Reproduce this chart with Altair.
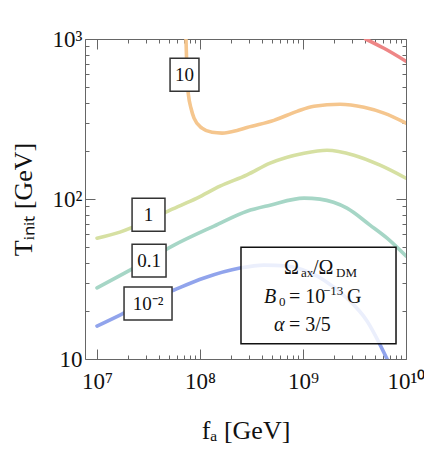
import math
import altair as alt
import pandas as pd

# ---------------- data ----------------
curve_names = ["100", "10", "1", "0.1", "10^-2"]
curve_colors = ["#ee8686", "#f5c68e", "#d6e0a2", "#a6d6c6", "#91a4ec"]

f_100 = [4.05e9, 6.11e9, 1e10]
T_100 = [1000, 875, 726]

f_10 = [7.31e7, 7.40e7, 7.48e7, 7.73e7, 8.18e7, 8.75e7, 1.045e8, 1.309e8, 1.637e8,
        2.286e8, 2.858e8, 5.22e8, 8.75e8, 1.279e9, 2.286e9, 3.91e9, 6.11e9, 1e10]
T_10 = [1000, 757, 569, 445, 369, 320, 277, 261, 258,
        268, 280, 310, 353, 380, 391, 374, 344, 298]

f_1 = [1e7, 1.671e7, 3.055e7, 5.12e7, 9.35e7, 1.563e8, 2.858e8, 4.79e8, 1.023e9,
       1.710e9, 3.126e9, 5.60e9, 1e10]
T_1 = [56.9, 62.1, 72.8, 85.2, 101.2, 120.2, 141.5, 167.5, 193.3,
       201.8, 187.8, 162.6, 134.8]

f_01 = [1e7, 2.089e7, 5.60e7, 1.368e8, 2.858e8, 4.79e8, 1.023e9, 1.462e9, 2.673e9,
        4.47e9, 6.55e9, 1e10]
T_01 = [27.8, 35.9, 51.5, 67.7, 83.9, 91.5, 101.2, 99.8, 87.6,
        68.7, 56.9, 44.0]

f_001 = [1e7, 1.671e7, 2.858e7, 5.60e7, 1.094e8, 2.443e8, 4.18e8, 7.00e8, 8.75e8,
         1.600e9, 2.673e9, 4.18e9, 6.55e9]
T_001 = [16.07, 18.83, 22.39, 26.98, 32.06, 37.0, 38.6, 38.1, 37.0,
         31.1, 24.0, 17.3, 10.0]

# contour labels (boxed)
lab_text = ["10", "1", "0.1", "10⁻²"]
lab_f = [7.07e7, 3.162e7, 3.198e7, 3.127e7]
lab_T = [597.7, 79.9, 41.2, 22.2]
lab_x1 = [5.12e7, 2.19e7, 2.19e7, 1.83e7]
lab_x2 = [9.77e7, 4.57e7, 4.68e7, 5.35e7]
lab_y1 = [471, 62.9, 32.5, 17.5]
lab_y2 = [757, 101.2, 52.2, 28.2]

# legend box
leg_x1 = [2.5e8]
leg_x2 = [8.0e9]
leg_y1 = [12.46]
leg_y2 = [50.0]
leg_text = ["Ω", "ax", "/Ω", "DM", "0", "= 10", "−13", "G", "= 3/5"]
leg_f = [6.54e8, 9.56e8, 1.251e9, 2.091e9, 5.85e8, 7.31e8, 1.563e9, 2.67e9, 7.31e8]
leg_T = [33.96, 32.5, 33.96, 32.5, 21.42, 22.37, 25.1, 22.37, 14.95]
leg_size = [20, 13, 20, 13, 13, 20, 13, 20, 20]
leg_it_text = ["B", "α"]
leg_it_f = [4.18e8, 5.23e8]
leg_it_T = [22.37, 14.95]
leg_it_size = [20, 20]

# axes
x_major = [1e7, 1e8, 1e9, 1e10]
x_major_labels = ["10⁷", "10⁸", "10⁹", "10¹⁰"]
x_minor = [m * 10 ** e for e in (7, 8, 9) for m in range(2, 10)]
y_major = [10, 100, 1000]
y_major_labels = ["10", "10²", "10³"]
y_minor = [m * 10 ** e for e in (1, 2) for m in range(2, 10)]

# ---------------- build tables ----------------
rows = []
for name, fs, Ts in zip(curve_names, [f_100, f_10, f_1, f_01, f_001],
                        [T_100, T_10, T_1, T_01, T_001]):
    for i, (f, T) in enumerate(zip(fs, Ts)):
        rows.append({"c": name, "f": f, "T": T, "i": i})
df_curves = pd.DataFrame(rows)
df_lab = pd.DataFrame({"t": lab_text, "f": lab_f, "T": lab_T,
                       "x1": lab_x1, "x2": lab_x2, "y1": lab_y1, "y2": lab_y2})
df_leg = pd.DataFrame({"x1": leg_x1, "x2": leg_x2, "y1": leg_y1, "y2": leg_y2})
df_legt = pd.DataFrame({"t": leg_text, "f": leg_f, "T": leg_T, "s": leg_size})
df_legit = pd.DataFrame({"t": leg_it_text, "f": leg_it_f, "T": leg_it_T, "s": leg_it_size})


def label_expr(vals, labs):
    e = ""
    for v, l in zip(vals, labs):
        e += f"abs(log(datum.value)/LN10 - {math.log10(v)}) < 0.01 ? '{l}' : "
    return e + "''"


FONT = "Liberation Serif"
common = dict(grid=False, domain=False, tickColor="#666", tickWidth=1,
              labelFont=FONT, labelFontSize=23, labelColor="#111",
              labelFlush=False, labelOverlap=False,
              titleFont=FONT, titleFontSize=26, titleColor="#111",
              titleFontWeight="normal")

xscale = alt.Scale(type="log", domain=[7.646e6, 1e10], nice=False)
yscale = alt.Scale(type="log", domain=[10, 1000], nice=False)

ax_x_bottom = alt.Axis(orient="bottom", values=x_major,
                       labelExpr=label_expr(x_major, x_major_labels),
                       tickSize={"expr": "-10"}, labelPadding=21,
                       title="fₐ [GeV]", titleY=79, titleBaseline="alphabetic", **common)
ax_y_left = alt.Axis(orient="left", values=y_major,
                     labelExpr=label_expr(y_major, y_major_labels),
                     tickSize={"expr": "-10"}, labelPadding=13,
                     title="Tᵢₙᵢₜ [GeV]", titleX=-62, titleBaseline="middle", **common)
ax_x_bottom_minor = alt.Axis(orient="bottom", values=x_minor, labels=False,
                             tickSize={"expr": "-4"}, title=None, **common)
ax_y_left_minor = alt.Axis(orient="left", values=y_minor, labels=False,
                           tickSize={"expr": "-4"}, title=None, **common)
ax_x_top = alt.Axis(orient="top", values=x_major, labels=False,
                    tickSize={"expr": "-10"}, title=None, **common)
ax_y_right = alt.Axis(orient="right", values=y_major, labels=False,
                      tickSize={"expr": "-10"}, title=None, **common)
ax_x_top_minor = alt.Axis(orient="top", values=x_minor, labels=False,
                          tickSize={"expr": "-4"}, title=None, **common)
ax_y_right_minor = alt.Axis(orient="right", values=y_minor, labels=False,
                            tickSize={"expr": "-4"}, title=None, **common)

curves = alt.Chart(df_curves).mark_line(clip=True, strokeWidth=3.6, strokeCap="round",
                                        strokeJoin="round", interpolate="monotone").encode(
    x=alt.X("f:Q", scale=xscale, axis=ax_x_bottom),
    y=alt.Y("T:Q", scale=yscale, axis=ax_y_left),
    color=alt.Color("c:N", scale=alt.Scale(domain=curve_names, range=curve_colors), legend=None),
    order="i:Q",
)

lab_boxes = alt.Chart(df_lab).mark_rect(fill="white", stroke="#333", strokeWidth=1.5).encode(
    x=alt.X("x1:Q", scale=xscale, axis=ax_x_bottom_minor), x2="x2:Q",
    y=alt.Y("y1:Q", scale=yscale, axis=ax_y_left_minor), y2="y2:Q",
)

lab_texts = alt.Chart(df_lab).mark_text(font=FONT, fontSize=19, color="#111",
                                        align="center", baseline="middle").encode(
    x=alt.X("f:Q", scale=xscale, axis=ax_x_top),
    y=alt.Y("T:Q", scale=yscale, axis=ax_y_right),
    text="t:N",
)

leg_box = alt.Chart(df_leg).mark_rect(fill="white", fillOpacity=0.82, stroke="#111",
                                      strokeWidth=1.5).encode(
    x=alt.X("x1:Q", scale=xscale, axis=ax_x_top_minor), x2="x2:Q",
    y=alt.Y("y1:Q", scale=yscale, axis=ax_y_right_minor), y2="y2:Q",
)

leg_texts = alt.Chart(df_legt).mark_text(font=FONT, color="#111", align="left",
                                         baseline="alphabetic").encode(
    x=alt.X("f:Q", scale=xscale, axis=None),
    y=alt.Y("T:Q", scale=yscale, axis=None),
    text="t:N",
    size=alt.Size("s:Q", scale=None),
)

leg_it = alt.Chart(df_legit).mark_text(font=FONT, fontStyle="italic", color="#111",
                                       align="left", baseline="alphabetic").encode(
    x=alt.X("f:Q", scale=xscale, axis=None),
    y=alt.Y("T:Q", scale=yscale, axis=None),
    text="t:N",
    size=alt.Size("s:Q", scale=None),
)

chart = alt.layer(curves, lab_boxes, lab_texts, leg_box, leg_texts, leg_it).resolve_axis(
    x="independent", y="independent"
).properties(
    width=321, height=320,
    autosize=alt.AutoSizeParams(type="none"),
    padding={"left": 77, "top": 31, "right": 18, "bottom": 85},
).configure_view(stroke="#666", strokeWidth=1)

chart.save("out.html", embed_options={"renderer": "svg", "actions": False})
